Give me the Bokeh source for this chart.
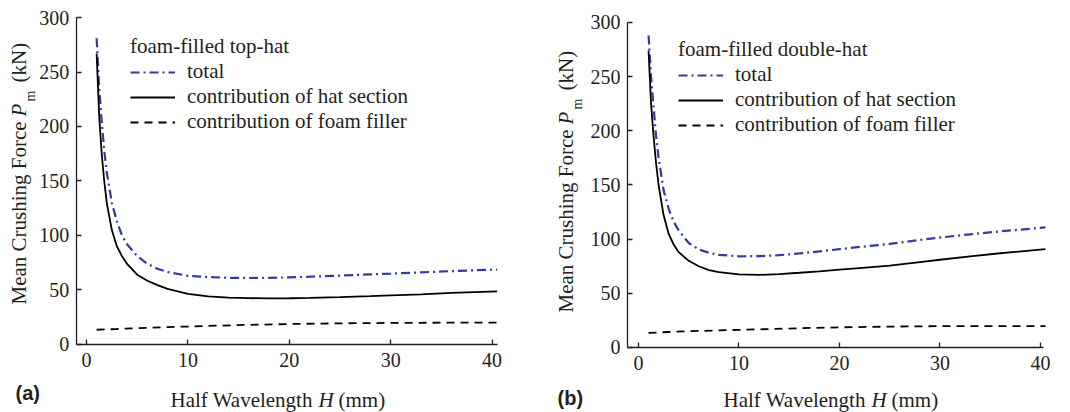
import math
from bokeh.plotting import figure
from bokeh.layouts import row
from bokeh.models import Label, Legend, LegendItem, FixedTicker
from bokeh.embed import file_html
from bokeh.resources import INLINE

# ---------------- data ----------------
H = [1, 1.25, 1.5, 1.75, 2, 2.5, 3, 3.5, 4, 5, 6, 7, 8, 10, 12, 14, 16, 18, 20,
     22, 25, 28, 30, 33, 36, 40.5]

# (a) foam-filled top-hat
a_total = [281, 235, 205, 178, 158, 130, 113, 100, 92, 81, 74, 69.5, 66.5, 63,
           61.8, 61.2, 61, 61.2, 61.6, 62.2, 63.2, 64.3, 65, 66.2, 67.3, 68.8]
a_hat = [267, 210, 175, 150, 130, 105, 90, 81, 74, 64, 58.5, 54.5, 51, 46.5,
         44.2, 43, 42.5, 42.3, 42.4, 42.8, 43.5, 44.3, 45, 46, 47.3, 48.7]
H_foam = [1, 3, 5, 8, 10, 13, 16, 20, 25, 30, 35, 40.5]
a_foam = [13.5, 14.2, 15, 16, 16.5, 17.3, 18, 18.8, 19.4, 19.8, 20, 20.1]

# (b) foam-filled double-hat
b_total = [288, 250, 222, 195, 175, 145, 128, 116, 108, 96.5, 90.5, 87.5, 85.5,
           84.2, 84.3, 85.2, 86.8, 88.7, 90.8, 92.8, 95.6, 99.3, 101.5, 104.5,
           107.2, 110.8]
b_hat = [274, 225, 195, 170, 150, 122, 105, 95, 88, 80, 75, 71.5, 69.5, 67.5,
         67, 67.8, 69, 70.3, 71.8, 73.3, 75.6, 78.8, 81, 84.2, 87, 90.8]
b_foam = [13.5, 14.3, 15, 15.8, 16.3, 17, 17.8, 18.6, 19.3, 19.7, 19.8, 19.8]

x_ticks = [0, 10, 20, 30, 40]
y_ticks = [0, 50, 100, 150, 200, 250, 300]

legend_titles = ["foam-filled top-hat", "foam-filled double-hat"]
series_names = ["total", "contribution of hat section",
                "contribution of foam filler"]
panel_tags = ["(a)", "(b)"]

SERIF = "Liberation Serif"
INK = "#231f20"
BLUE = "#2e3d9e"


def make_panel(total, hat, foam, title, tag, g):
    # the frame fills the whole canvas; the axes sit at fixed data positions
    p = figure(width=535, height=412, output_backend="svg",
               toolbar_location=None,
               x_range=g["view_x"], y_range=g["view_y"],
               min_border=0, min_border_left=0, min_border_right=0,
               min_border_top=0, min_border_bottom=0)
    p.outline_line_color = None
    p.grid.visible = False

    xmin, xmax = g["axis_x"]
    p.xaxis.fixed_location = 0
    p.xaxis.bounds = (xmin, xmax)
    p.yaxis.fixed_location = xmin
    p.yaxis.bounds = (0, 300)

    for ax, ticks in ((p.xaxis, x_ticks), (p.yaxis, y_ticks)):
        ax.ticker = FixedTicker(ticks=ticks)
        ax.minor_tick_line_color = None
        ax.major_tick_in = 5
        ax.major_tick_out = 0
        ax.axis_line_color = INK
        ax.axis_line_width = 1.3
        ax.major_tick_line_color = INK
        ax.major_tick_line_width = 1.3
        ax.major_label_text_font = SERIF
        ax.major_label_text_font_size = "20px"
        ax.major_label_text_color = INK
    p.xaxis.major_label_standoff = 9
    p.yaxis.major_label_standoff = 7

    r_tot = p.line(H, total, line_color=BLUE, line_width=2.2,
                   line_dash="9 4 2 4")
    r_hat = p.line(H, hat, line_color="black", line_width=1.8)
    r_foam = p.line(H_foam, foam, line_color="black", line_width=1.8,
                    line_dash="8 6")

    leg = Legend(items=[LegendItem(label=series_names[0], renderers=[r_tot]),
                        LegendItem(label=series_names[1], renderers=[r_hat]),
                        LegendItem(label=series_names[2], renderers=[r_foam])],
                 location=g["leg"], title=title)
    leg.padding = 0
    leg.margin = 0
    leg.spacing = 0
    leg.border_line_color = None
    leg.background_fill_alpha = 0
    leg.glyph_width = 45
    leg.glyph_height = 20
    leg.label_height = 20
    leg.label_standoff = 12
    leg.label_text_font = SERIF
    leg.label_text_font_size = "21px"
    leg.label_text_color = INK
    leg.title_text_font = SERIF
    leg.title_text_font_size = "21px"
    leg.title_text_font_style = "normal"
    leg.title_text_color = INK
    leg.title_standoff = 0
    p.add_layout(leg)

    def lab(text, x, y, **kw):
        opts = dict(x_units="screen", y_units="screen", text_font=SERIF,
                    text_font_size="21px", text_color=INK,
                    text_baseline="middle", text_align="left")
        opts.update(kw)
        p.add_layout(Label(x=x, y=y, text=text, **opts))

    # y-axis label (rotated): Mean Crushing Force P_m (kN)
    yx, y0 = g["ylab"]
    lab("Mean Crushing Force", yx, y0, angle=math.pi / 2)
    lab("P", yx, y0 + 188, angle=math.pi / 2, text_font_style="italic")
    lab("m", yx + 12, y0 + 203, angle=math.pi / 2, text_font_size="14px")
    lab("(kN)", yx, y0 + 222, angle=math.pi / 2)

    # x-axis label: Half Wavelength H (mm)
    xx, xy = g["xlab"]
    lab("Half Wavelength", xx, xy)
    lab("H", xx + 148, xy, text_font_style="italic")
    lab("(mm)", xx + 168, xy)

    tx, ty = g["tag"]
    lab(tag, tx, ty, text_font="Liberation Sans", text_font_style="bold",
        text_font_size="20px")
    return p


geom_a = dict(view_x=(-8.48, 44.28), view_y=(-62.4, 315.6), axis_x=(-1.0, 40.5),
              leg=(130, 278), ylab=(18, 108), xlab=(170, 13), tag=(15, 20))
geom_b = dict(view_x=(-10.25, 42.99), view_y=(-60.0, 320.3), axis_x=(-1.1, 40.3),
              leg=(143, 275), ylab=(30, 100), xlab=(188, 13), tag=(22, 15))

pa = make_panel(a_total, a_hat, a_foam, legend_titles[0], panel_tags[0], geom_a)
pb = make_panel(b_total, b_hat, b_foam, legend_titles[1], panel_tags[1], geom_b)

layout = row(pa, pb)
open("out.html", "w").write(file_html(layout, INLINE))
